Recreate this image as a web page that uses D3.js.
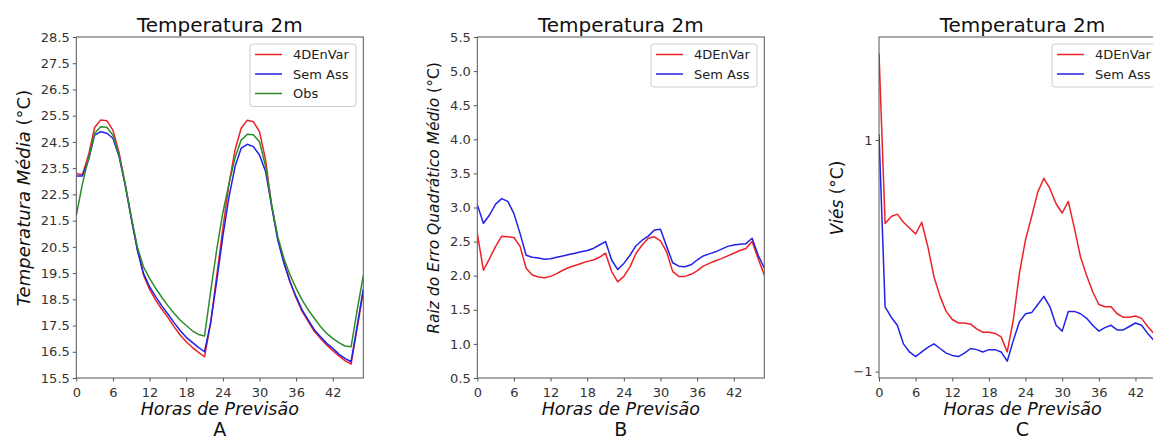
<!DOCTYPE html>
<html>
<head>
<meta charset="utf-8">
<script src="https://cdn.jsdelivr.net/npm/d3@7"></script>
<style>
  html, body { margin: 0; padding: 0; background: #fff; }
  svg { display: block; font-family: "DejaVu Sans", sans-serif; }
  .axis .tick text { fill: #333; font-size: 13px; }
  .axis .tick line { stroke: #555; }
  .frame { fill: none; stroke: #555; stroke-width: 1; }
  .title { font-size: 20px; fill: #111; }
  .xlabel { font-size: 17.5px; font-style: italic; fill: #111; }
  .ylabel { fill: #111; }
  .letter { font-size: 19px; fill: #111; }
  .leg text { font-size: 13px; fill: #222; }
  .leg rect { fill: #fff; fill-opacity: 0.8; stroke: #ccc; }
  .series { fill: none; stroke-width: 1.5; stroke-linejoin: round; }
</style>
</head>
<body>
<svg id="chart" width="1153" height="438"></svg>
<script>
// forecast hour of each point
var hours = [0, 1, 2, 3, 4, 5, 6, 7, 8, 9, 10, 11, 12, 13, 14, 15, 16, 17, 18, 19, 20, 21, 22, 23,
  24, 25, 26, 27, 28, 29, 30, 31, 32, 33, 34, 35, 36, 37, 38, 39, 40, 41, 42, 43, 44, 45, 46, 47];
var xTicks = [0, 6, 12, 18, 24, 30, 36, 42];

// A: mean 2m temperature (°C)
var tempEnVar = [23.3, 23.25, 24.0, 25.05, 25.34, 25.31, 24.95, 24.1, 22.9, 21.6, 20.4, 19.43, 18.88, 18.47, 18.12, 17.81,
  17.46, 17.14, 16.88, 16.67, 16.48, 16.31, 17.6, 19.4, 21.2, 22.9, 24.2, 25.02, 25.33, 25.27, 24.89, 23.81,
  22.05, 20.8, 19.93, 19.17, 18.55, 18.03, 17.65, 17.27, 17.01, 16.76, 16.54, 16.34, 16.16, 16.03, 17.4, 18.8];
var tempSemAss = [23.2, 23.2, 23.81, 24.76, 24.89, 24.83, 24.64, 23.94, 22.86, 21.59, 20.38, 19.49, 18.98, 18.6, 18.25, 17.94,
  17.61, 17.31, 17.05, 16.86, 16.67, 16.5, 17.6, 19.2, 20.9, 22.4, 23.56, 24.26, 24.41, 24.32, 24.0, 23.37,
  22.03, 20.76, 19.87, 19.17, 18.6, 18.09, 17.71, 17.33, 17.07, 16.82, 16.63, 16.41, 16.25, 16.12, 17.5, 18.9];
var tempObs = [21.7, 22.9, 23.87, 24.83, 25.08, 25.06, 24.76, 24.0, 22.9, 21.65, 20.5, 19.74, 19.3, 18.92, 18.58, 18.26,
  17.97, 17.71, 17.5, 17.3, 17.16, 17.1, 18.8, 20.4, 21.8, 22.9, 23.9, 24.57, 24.79, 24.77, 24.51, 23.56,
  22.1, 20.88, 20.06, 19.43, 18.92, 18.47, 18.09, 17.77, 17.46, 17.2, 17.01, 16.85, 16.72, 16.69, 18.1, 19.4];
var tempTicks = [15.5, 16.5, 17.5, 18.5, 19.5, 20.5, 21.5, 22.5, 23.5, 24.5, 25.5, 26.5, 27.5, 28.5];

// B: root mean square error (°C)
var rmseEnVar = [2.62, 2.08, 2.25, 2.43, 2.58, 2.57, 2.56, 2.43, 2.11, 2.01, 1.98, 1.97, 1.99, 2.03, 2.08, 2.12,
  2.15, 2.18, 2.21, 2.23, 2.27, 2.33, 2.06, 1.91, 1.99, 2.13, 2.33, 2.45, 2.55, 2.57, 2.51, 2.35,
  2.06, 1.99, 1.99, 2.02, 2.07, 2.14, 2.18, 2.22, 2.25, 2.29, 2.33, 2.37, 2.40, 2.50, 2.25, 2.01];
var rmseSemAss = [3.04, 2.77, 2.89, 3.05, 3.13, 3.09, 2.91, 2.62, 2.30, 2.27, 2.26, 2.24, 2.25, 2.27, 2.29, 2.31,
  2.33, 2.35, 2.37, 2.40, 2.45, 2.50, 2.23, 2.09, 2.18, 2.30, 2.44, 2.52, 2.58, 2.67, 2.68, 2.43,
  2.19, 2.14, 2.13, 2.16, 2.23, 2.29, 2.32, 2.35, 2.39, 2.43, 2.45, 2.46, 2.47, 2.55, 2.30, 2.11];
var rmseTicks = [0.5, 1.0, 1.5, 2.0, 2.5, 3.0, 3.5, 4.0, 4.5, 5.0, 5.5];

// C: bias (°C)
var biasEnVar = [1.75, 0.28, 0.34, 0.36, 0.29, 0.24, 0.19, 0.29, 0.08, -0.18, -0.35, -0.48, -0.55, -0.58, -0.58, -0.59,
  -0.63, -0.66, -0.66, -0.67, -0.70, -0.83, -0.55, -0.15, 0.14, 0.34, 0.55, 0.67, 0.58, 0.45, 0.37, 0.47,
  0.24, -0.01, -0.17, -0.31, -0.42, -0.44, -0.44, -0.50, -0.53, -0.53, -0.52, -0.54, -0.61, -0.67, -0.74, -0.78];
var biasSemAss = [1.05, -0.44, -0.53, -0.60, -0.76, -0.83, -0.87, -0.83, -0.79, -0.76, -0.80, -0.84, -0.86, -0.87, -0.84, -0.80,
  -0.81, -0.83, -0.81, -0.81, -0.83, -0.91, -0.73, -0.57, -0.50, -0.49, -0.42, -0.35, -0.44, -0.60, -0.65, -0.48,
  -0.48, -0.50, -0.54, -0.60, -0.65, -0.62, -0.60, -0.64, -0.64, -0.61, -0.58, -0.60, -0.67, -0.73, -0.78, -0.82];
var biasTicks = [-1, 1];

(function () {
  "use strict";
  var RED = "#ec2226", BLUE = "#2222e6", GREEN = "#2b8c2b";
  var TOP = 37, PW = 287, PH = 341;

  var panels = [
    { left: 76.3, domain: [15.5, 28.5], ticks: tempTicks, fmt: d3.format(".1f"), letter: "A",
      ylab: ["Temperatura Média", " (°C)"], ylabSize: 18, ylabX: 30,
      legend: { x: 250, w: 106 },
      series: [{ name: "4DEnVar", v: tempEnVar, c: RED }, { name: "Sem Ass", v: tempSemAss, c: BLUE }, { name: "Obs", v: tempObs, c: GREEN }] },
    { left: 477.3, domain: [0.5, 5.5], ticks: rmseTicks, fmt: d3.format(".1f"), letter: "B",
      ylab: ["Raiz do Erro Quadrático Médio", " (°C)"], ylabSize: 15.5, ylabX: 439,
      legend: { x: 651, w: 106 },
      series: [{ name: "4DEnVar", v: rmseEnVar, c: RED }, { name: "Sem Ass", v: rmseSemAss, c: BLUE }] },
    { left: 879, domain: [-1.055, 1.89], ticks: biasTicks, fmt: d3.format(".0f"), letter: "C",
      ylab: ["Viés", " (°C)"], ylabSize: 17, ylabX: 843,
      legend: { x: 1052, w: 106 },
      series: [{ name: "4DEnVar", v: biasEnVar, c: RED }, { name: "Sem Ass", v: biasSemAss, c: BLUE }] }
  ];

  var svg = d3.select("#chart");
  var defs = svg.append("defs");

  panels.forEach(function (p, i) {
    var x = d3.scaleLinear().domain([0, 47]).range([p.left, p.left + PW]);
    var y = d3.scaleLinear().domain(p.domain).range([TOP + PH, TOP]);
    var g = svg.append("g");

    defs.append("clipPath").attr("id", "clip" + i).append("rect")
      .attr("x", p.left).attr("y", TOP).attr("width", PW).attr("height", PH);

    // axes
    var ya = g.append("g").attr("class", "axis").attr("transform", "translate(" + p.left + ",0)")
      .call(d3.axisLeft(y).tickValues(p.ticks).tickFormat(p.fmt).tickSize(3.5).tickPadding(3));
    ya.select(".domain").remove();
    var xa = g.append("g").attr("class", "axis").attr("transform", "translate(0," + (TOP + PH) + ")")
      .call(d3.axisBottom(x).tickValues(xTicks).tickSize(3.5).tickPadding(3));
    xa.select(".domain").remove();
    xa.selectAll("text").attr("dy", "0.95em");
    g.selectAll(".axis").attr("font-family", null).attr("font-size", null);

    // lines
    var line = d3.line().x(function (d, k) { return x(hours[k]); }).y(function (d) { return y(d); });
    g.append("g").attr("clip-path", "url(#clip" + i + ")").selectAll("path").data(p.series).enter()
      .append("path").attr("class", "series").attr("stroke", function (s) { return s.c; })
      .attr("d", function (s) { return line(s.v); });

    g.append("rect").attr("class", "frame").attr("x", p.left).attr("y", TOP).attr("width", PW).attr("height", PH);

    // texts
    var cx = p.left + PW / 2;
    g.append("text").attr("class", "title").attr("x", cx).attr("y", 32).attr("text-anchor", "middle").text("Temperatura 2m");
    g.append("text").attr("class", "xlabel").attr("x", cx).attr("y", 415).attr("text-anchor", "middle").text("Horas de Previsão");
    g.append("text").attr("class", "letter").attr("x", cx).attr("y", 435.5).attr("text-anchor", "middle").text(p.letter);
    var yl = g.append("text").attr("class", "ylabel").attr("text-anchor", "middle").attr("font-size", p.ylabSize)
      .attr("transform", "translate(" + p.ylabX + ",198) rotate(-90)");
    yl.append("tspan").attr("font-style", "italic").text(p.ylab[0]);
    yl.append("tspan").text(p.ylab[1]);

    // legend
    var lg = g.append("g").attr("class", "leg");
    lg.append("rect").attr("x", p.legend.x).attr("y", 44).attr("width", p.legend.w)
      .attr("height", 19.5 * p.series.length + 4).attr("rx", 3);
    lg.selectAll("g").data(p.series).enter().append("g")
      .attr("transform", function (s, k) { return "translate(" + p.legend.x + "," + (54.5 + k * 19.5) + ")"; })
      .each(function (s) {
        var e = d3.select(this);
        e.append("line").attr("x1", 5).attr("x2", 32).attr("stroke", s.c).attr("stroke-width", 1.5);
        e.append("text").attr("x", 43).attr("dy", "0.35em").text(s.name);
      });
  });
})();
</script>
</body>
</html>
